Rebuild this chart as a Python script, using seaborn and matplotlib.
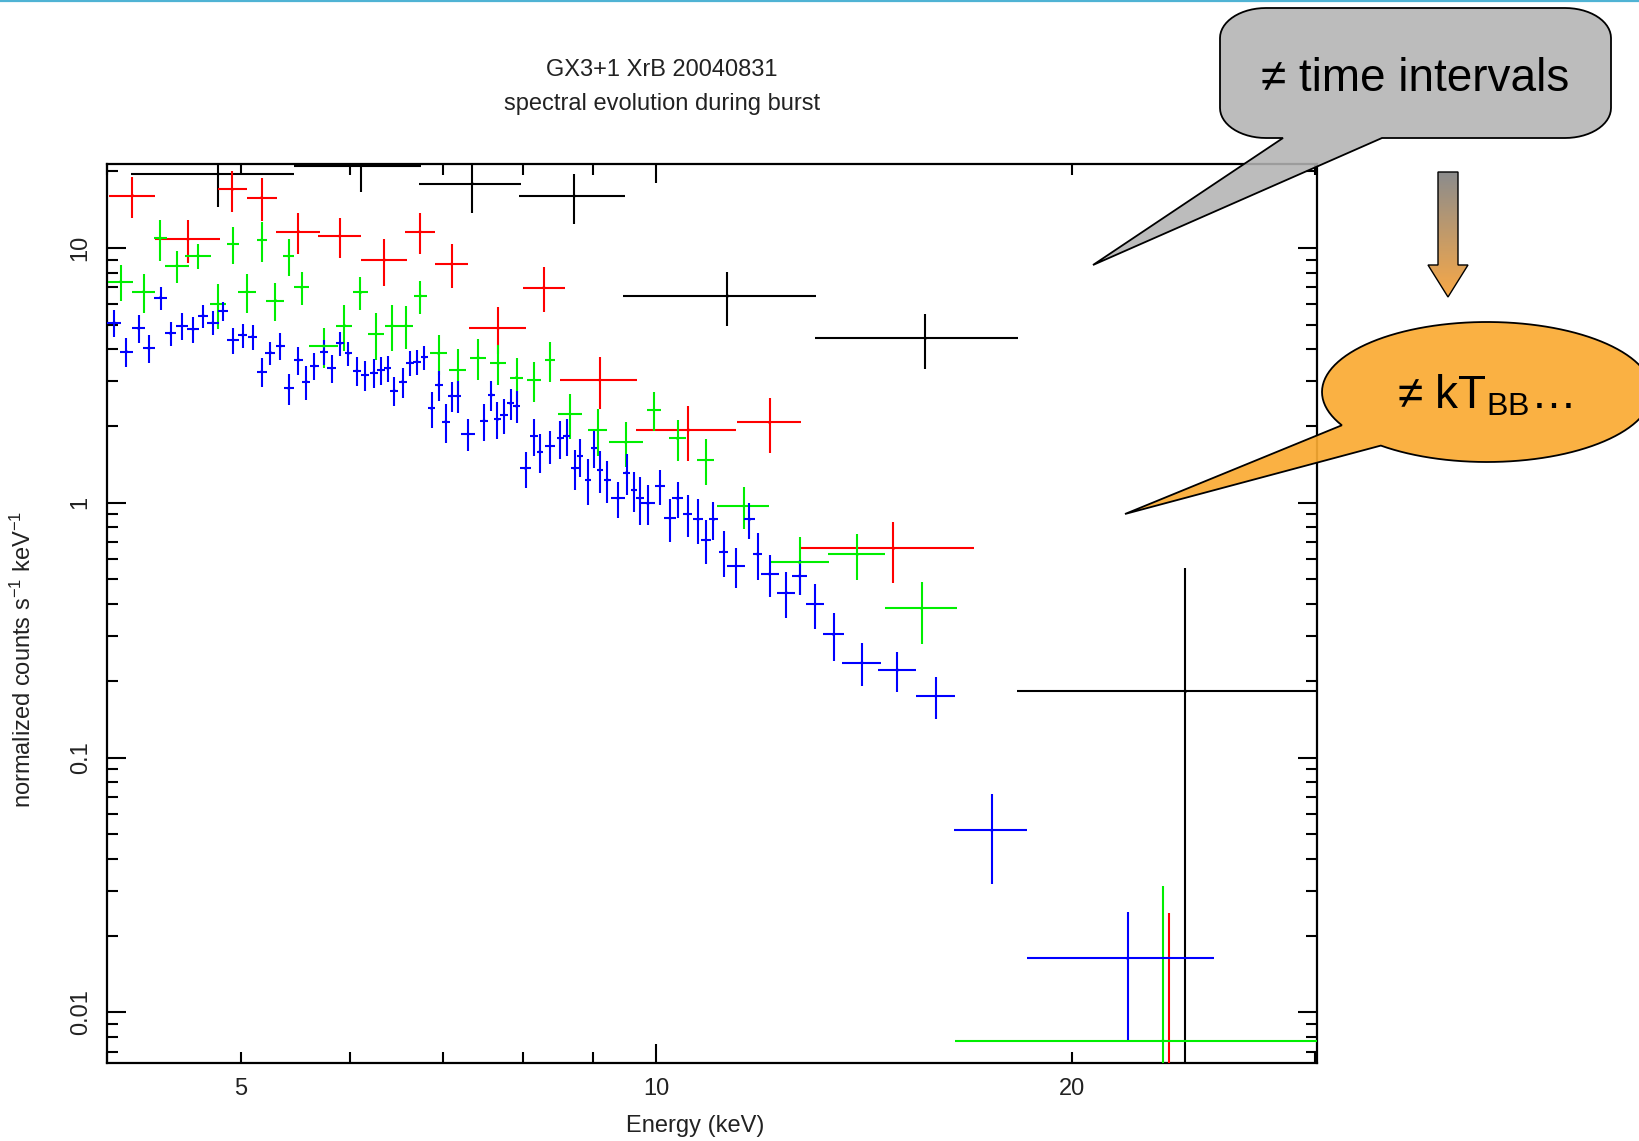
import numpy as np
import pandas as pd
import matplotlib
matplotlib.use("Agg")
import matplotlib.pyplot as plt
import seaborn as sns
from matplotlib.patches import Polygon
from matplotlib.ticker import FixedLocator, FixedFormatter, NullFormatter

# ---------------- data ----------------
# energy centre (keV), half bin width (keV), normalized counts, 1-sigma error
E_black = [4.815, 6.11, 7.355, 8.72, 11.26, 15.66, 24.17]
dE_black = [0.65, 0.645, 0.62, 0.765, 1.80, 2.63, 5.93]
V_black = [19.5, 21.0, 17.86, 15.98, 6.475, 4.418, 0.182]
dV_black = [5.0, 4.5, 4.1, 3.6, 1.55, 1.07, 0.372]

E_red = [4.173, 4.578, 4.93, 5.178, 5.505, 5.897, 6.353, 6.742, 7.108, 7.68,
         8.29, 9.10, 10.55, 12.08, 14.85, 23.52]
dE_red = [0.157, 0.248, 0.12, 0.13, 0.2, 0.21, 0.24, 0.17, 0.2, 0.36,
          0.29, 0.58, 0.88, 0.64, 2.13, 6.5]
V_red = [16.03, 10.81, 16.98, 15.74, 11.58, 11.13, 8.965, 11.58, 8.646, 4.836,
         6.98, 3.03, 1.929, 2.067, 0.662, 0.003]
dV_red = [2.9, 2.1, 3.1, 3.0, 2.1, 2.0, 1.85, 2.1, 1.7, 1.0,
          1.4, 0.7, 0.47, 0.5, 0.18, 0.0215]

E_green = [4.093, 4.253, 4.373, 4.495, 4.656, 4.814, 4.935, 5.052, 5.178, 5.297,
           5.417, 5.536, 5.742, 5.943, 6.105, 6.265, 6.435, 6.586, 6.746, 6.955,
           7.182, 7.428, 7.68, 7.92, 8.154, 8.375, 8.659, 9.07, 9.504, 9.96,
           10.36, 10.86, 11.57, 12.70, 13.98, 15.57, 23.28]
dE_green = [0.085, 0.08, 0.049, 0.09, 0.1, 0.065, 0.05, 0.077, 0.043, 0.08,
            0.051, 0.07, 0.14, 0.08, 0.08, 0.08, 0.08, 0.08, 0.07, 0.1,
            0.1, 0.1, 0.1, 0.09, 0.09, 0.07, 0.17, 0.14, 0.27, 0.12,
            0.15, 0.15, 0.5, 0.64, 0.67, 0.93, 6.82]
V_green = [7.366, 6.73, 10.91, 8.514, 9.32, 6.025, 10.36, 6.73, 10.74, 6.21,
           9.29, 7.0, 4.12, 4.952, 6.69, 4.594, 4.95, 4.95, 6.475, 3.857,
           3.317, 3.708, 3.525, 3.095, 3.03, 3.63, 2.229, 1.929, 1.726, 2.311,
           1.789, 1.471, 0.971, 0.5835, 0.627, 0.385, 0.00774]
dV_green = [1.2, 1.2, 2.0, 1.25, 1.05, 1.2, 1.7, 1.2, 1.9, 1.05,
            1.5, 1.05, 0.75, 1.0, 1.0, 0.95, 1.0, 0.95, 0.95, 0.7,
            0.68, 0.67, 0.64, 0.6, 0.55, 0.65, 0.45, 0.4, 0.35, 0.4,
            0.33, 0.3, 0.18, 0.15, 0.13, 0.105, 0.0236]

E_blue = [4.048, 4.131, 4.217, 4.29, 4.374, 4.447, 4.533, 4.617, 4.695, 4.773,
          4.853, 4.935, 5.016, 5.10, 5.178, 5.253, 5.341, 5.417, 5.505, 5.576,
          5.653, 5.742, 5.82, 5.903, 5.982, 6.069, 6.152, 6.241, 6.318, 6.389,
          6.458, 6.55, 6.633, 6.708, 6.789, 6.873, 6.955, 7.039, 7.108, 7.182,
          7.305, 7.502, 7.596, 7.672, 7.757, 7.843, 7.92, 8.04, 8.154, 8.235,
          8.375, 8.516, 8.61, 8.726, 8.805, 8.924, 9.012, 9.10, 9.215, 9.38,
          9.515, 9.63, 9.73, 9.86, 10.06, 10.23, 10.36, 10.54, 10.72, 10.86,
          11.0, 11.19, 11.42, 11.68, 11.84, 12.08, 12.42, 12.70, 13.03, 13.44,
          14.09, 14.95, 15.94, 17.5, 21.95]
dE_blue = [0.045, 0.045, 0.045, 0.04, 0.045, 0.04, 0.045, 0.045, 0.04, 0.045,
           0.04, 0.05, 0.04, 0.04, 0.045, 0.045, 0.04, 0.045, 0.045, 0.04,
           0.04, 0.04, 0.045, 0.04, 0.035, 0.04, 0.04, 0.04, 0.04, 0.04,
           0.04, 0.045, 0.045, 0.04, 0.04, 0.045, 0.045, 0.045, 0.04, 0.04,
           0.08, 0.05, 0.045, 0.05, 0.05, 0.045, 0.045, 0.07, 0.05, 0.045,
           0.07, 0.05, 0.045, 0.06, 0.045, 0.045, 0.05, 0.045, 0.05, 0.11,
           0.06, 0.05, 0.06, 0.11, 0.085, 0.095, 0.09, 0.08, 0.09, 0.09,
           0.09, 0.085, 0.165, 0.1, 0.09, 0.18, 0.19, 0.165, 0.19, 0.24,
           0.45, 0.48, 0.52, 1.07, 3.4]
V_blue = [5.085, 3.914, 4.836, 4.036, 6.378, 4.623, 4.937, 4.79, 5.42, 5.085,
          5.654, 4.35, 4.55, 4.482, 3.267, 3.879, 4.12, 2.812, 3.63, 2.985,
          3.44, 3.914, 3.37, 4.223, 3.857, 3.296, 3.17, 3.236, 3.317, 3.37,
          2.752, 2.985, 3.544, 3.576, 3.72, 2.347, 2.897, 2.08, 2.623, 2.623,
          1.861, 2.098, 2.647, 2.125, 2.209, 2.455, 2.396, 1.365, 1.827, 1.586,
          1.669, 1.789, 1.827, 1.365, 1.525, 1.228, 1.635, 1.344, 1.228, 1.041,
          1.311, 1.121, 1.041, 0.9945, 1.163, 0.8686, 1.041, 0.903, 0.861, 0.714,
          0.861, 0.6423, 0.5646, 0.861, 0.629, 0.525, 0.4433, 0.5156, 0.4003, 0.3045,
          0.2356, 0.2205, 0.1743, 0.0518, 0.0163]
dV_blue = [0.6, 0.5, 0.6, 0.5, 0.65, 0.5, 0.6, 0.55, 0.55, 0.55,
           0.5, 0.5, 0.5, 0.5, 0.42, 0.4, 0.5, 0.4, 0.45, 0.45,
           0.42, 0.45, 0.42, 0.45, 0.42, 0.42, 0.42, 0.42, 0.42, 0.4,
           0.35, 0.4, 0.4, 0.4, 0.4, 0.38, 0.38, 0.37, 0.35, 0.38,
           0.27, 0.35, 0.35, 0.35, 0.35, 0.35, 0.35, 0.22, 0.3, 0.28,
           0.25, 0.3, 0.3, 0.24, 0.26, 0.25, 0.27, 0.25, 0.23, 0.17,
           0.24, 0.2, 0.22, 0.18, 0.18, 0.17, 0.17, 0.17, 0.17, 0.14,
           0.15, 0.13, 0.1, 0.14, 0.13, 0.1, 0.09, 0.08, 0.08, 0.065,
           0.045, 0.04, 0.033, 0.02, 0.0085]

# axis ticks: long ticks at decades, short ticks elsewhere; labels on some
x_major = [10]
x_major_labels = ["10"]
x_minor = [4, 5, 6, 7, 8, 9, 20, 30]
x_minor_labels = ["", "5", "", "", "", "", "20", ""]
y_ticks = [0.01, 0.1, 1, 10]
y_ticklabels = ["0.01", "0.1", "1", "10"]

title_lines = ["GX3+1 XrB 20040831", "spectral evolution during burst"]
x_label = "Energy (keV)"
y_label = "normalized counts s$^{-1}$ keV$^{-1}$"
callout1 = "\u2260 time intervals"
callout2 = "\u2260 kT$_{\\rm BB}$\u2026"

# ---------------- style ----------------
sns.set_style("ticks")
plt.rcParams['font.family'] = ['Liberation Sans', 'DejaVu Sans']
plt.rcParams['mathtext.fontset'] = 'custom'
plt.rcParams['mathtext.rm'] = 'Liberation Sans'
plt.rcParams['mathtext.it'] = 'Liberation Sans:italic'
plt.rcParams['mathtext.bf'] = 'Liberation Sans:bold'

W, H = 1640, 1141
fig = plt.figure(figsize=(W / 100, H / 100), dpi=100)
fig.patch.set_facecolor('white')

ax = fig.add_axes([107 / W, 1 - 1063 / H, 1210 / W, 899 / H])
ax.set_xscale('log')
ax.set_yscale('log')

series = [
    ("1", E_black, dE_black, V_black, dV_black, "#000000"),
    ("2", E_red, dE_red, V_red, dV_red, "#ff0000"),
    ("3", E_green, dE_green, V_green, dV_green, "#00ee00"),
    ("4", E_blue, dE_blue, V_blue, dV_blue, "#0000ff"),
]
frames = []
for i, (name, E, dE, V, dV, col) in enumerate(series):
    ax.errorbar(E, V, xerr=dE, yerr=dV, fmt='none', ecolor=col,
                elinewidth=1.5, capsize=0, zorder=2 + i)
    frames.append(pd.DataFrame({"E": E, "V": V, "grp": name}))
df = pd.concat(frames, ignore_index=True)
palette = {s[0]: s[5] for s in series}
sns.scatterplot(data=df, x="E", y="V", hue="grp", palette=palette, s=5,
                linewidth=0, legend=False, ax=ax, zorder=7)

ax.set_xlim(4.0, 30.1)
ax.set_ylim(0.00633, 21.34)
ax.set_xlabel("")
ax.set_ylabel("")

ax.xaxis.set_major_locator(FixedLocator(x_major))
ax.xaxis.set_major_formatter(FixedFormatter(x_major_labels))
ax.xaxis.set_minor_locator(FixedLocator(x_minor))
ax.xaxis.set_minor_formatter(FixedFormatter(x_minor_labels))
ax.yaxis.set_major_locator(FixedLocator(y_ticks))
ax.yaxis.set_major_formatter(FixedFormatter(y_ticklabels))
ax.yaxis.set_minor_locator(matplotlib.ticker.LogLocator(base=10, subs=np.arange(2, 10)))
ax.yaxis.set_minor_formatter(NullFormatter())

ax.tick_params(which='both', direction='in', top=True, right=True,
               width=1.5, color='black')
ax.tick_params(which='major', length=14)
ax.tick_params(which='minor', length=8)
ax.tick_params(axis='y', which='major', labelrotation=90, pad=11,
               labelsize=17, labelcolor='#222222')
ax.tick_params(axis='x', which='both', pad=11, labelsize=17,
               labelcolor='#222222')
for lbl in ax.get_yticklabels():
    lbl.set_va('center')
for sp in ax.spines.values():
    sp.set_linewidth(1.6)
    sp.set_color('black')

# titles and axis labels
fig.text(662 / W, 1 - 70 / H, title_lines[0], ha='center', va='center',
         fontsize=17, color='#222222')
fig.text(662 / W, 1 - 104 / H, title_lines[1], ha='center', va='center',
         fontsize=17, color='#222222')
fig.text(695 / W, 1 - 1126 / H, x_label, ha='center', va='center',
         fontsize=17, color='#222222')
fig.text(23 / W, 1 - 659 / H, y_label, ha='center', va='center',
         rotation=90, fontsize=17, color='#222222')

# ---------------- slide overlay (callouts) ----------------
ov = fig.add_axes([0, 0, 1, 1], zorder=10)
ov.set_xlim(0, W)
ov.set_ylim(H, 0)
ov.axis('off')
ov.patch.set_alpha(0)

# top slide rule
ov.plot([0, W], [1.0, 1.0], color='#4fb3d4', lw=1.6, solid_capstyle='butt')


def arc(cx, cy, rx, ry, a0, a1, n=16):
    a = np.radians(np.linspace(a0, a1, n))
    return list(zip(cx + rx * np.cos(a), cy + ry * np.sin(a)))


# gray rounded rectangle with tail
x0, y0, x1, y1 = 1220, 8, 1611, 138
rx, ry = 46, 30
pts = []
pts += arc(x1 - rx, y0 + ry, rx, ry, -90, 0)
pts += arc(x1 - rx, y1 - ry, rx, ry, 0, 90)
pts += [(1382, y1), (1093, 265), (1283, y1)]
pts += arc(x0 + rx, y1 - ry, rx, ry, 90, 180)
pts += arc(x0 + rx, y0 + ry, rx, ry, 180, 270)
ov.add_patch(Polygon(pts, closed=True, facecolor=(0.70, 0.70, 0.70, 0.88),
                     edgecolor='black', lw=1.3, joinstyle='miter'))
ov.text(1415, 91, callout1, ha='center', va='baseline', fontsize=33,
        color='black')

# arrow with gradient
arrow_pts = [(1438, 172), (1458, 172), (1458, 265), (1468, 265),
             (1448, 297), (1428, 265), (1438, 265)]
arrow = Polygon(arrow_pts, closed=True, facecolor='none', edgecolor='black',
                lw=1.0)
ov.add_patch(arrow)
top_c = np.array([0.55, 0.55, 0.55])
bot_c = np.array([0.97, 0.66, 0.28])
t = np.linspace(0, 1, 64)[:, None]
grad = (top_c * (1 - t) + bot_c * t)[:, None, :]
im = ov.imshow(grad, extent=(1428, 1468, 297, 172), origin='upper',
               aspect='auto', zorder=1, interpolation='bilinear')
im.set_clip_path(arrow)
arrow.set_zorder(2)
ov.set_xlim(0, W)
ov.set_ylim(H, 0)

# orange ellipse with tail
cx, cy, erx, ery = 1487, 392, 165, 70
a_start = np.degrees(np.arctan2((425 - cy) / ery, (1343 - cx) / erx))
a_end = np.degrees(np.arctan2((445 - cy) / ery, (1382 - cx) / erx)) + 360
pts2 = arc(cx, cy, erx, ery, a_start, a_end, n=120)
pts2 += [(1125, 514)]
ov.add_patch(Polygon(pts2, closed=True, facecolor=(0.98, 0.67, 0.20, 0.92),
                     edgecolor='black', lw=1.3, zorder=3))
ov.text(1485, 408, callout2, ha='center', va='baseline', fontsize=33,
        color='black', zorder=4)

fig.savefig("out.png", dpi=100, facecolor='white')
